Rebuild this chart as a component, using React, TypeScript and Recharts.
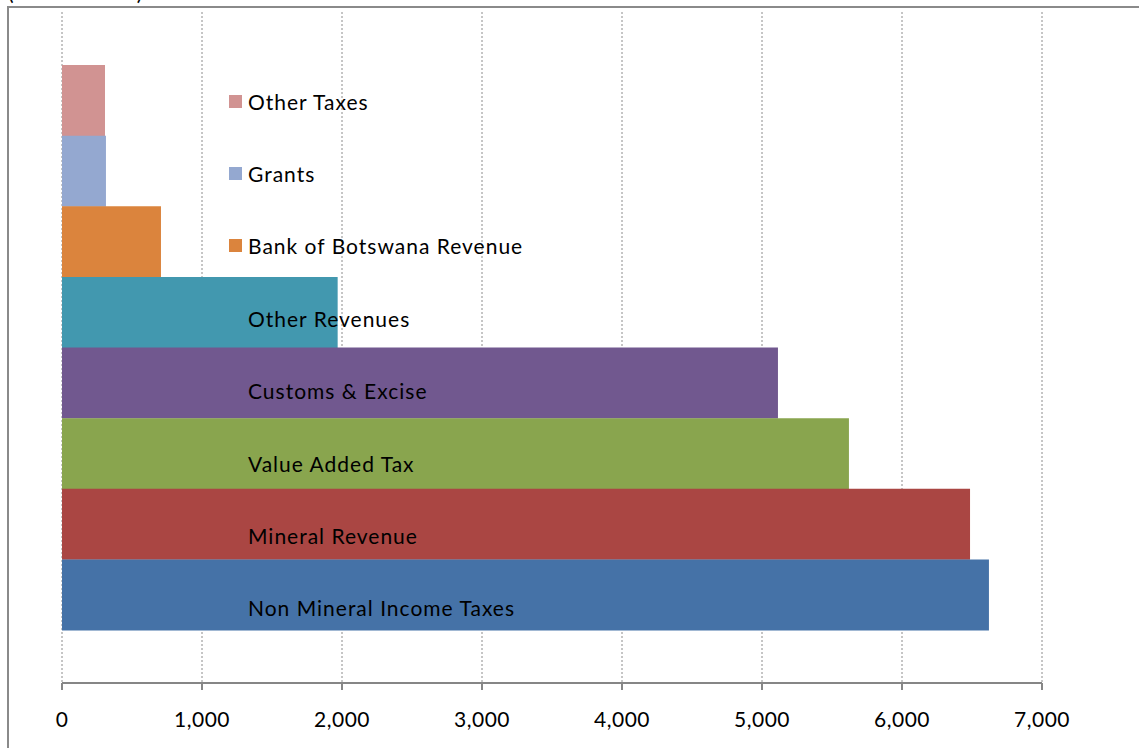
import React from 'react';
import { BarChart, Bar, XAxis, YAxis, CartesianGrid, Cell } from 'recharts';

// top to bottom as drawn
const categories = [
  'Other Taxes',
  'Grants',
  'Bank of Botswana Revenue',
  'Other Revenues',
  'Customs & Excise',
  'Value Added Tax',
  'Mineral Revenue',
  'Non Mineral Income Taxes',
];
const values = [307, 314, 707, 1969, 5114, 5621, 6486, 6621];
const colors = ['#D19392', '#94A8D0', '#DB843D', '#4298AF', '#71588F', '#89A54E', '#AA4643', '#4572A7'];
const xTicks = [0, 1000, 2000, 3000, 4000, 5000, 6000, 7000];

const data = categories.map((name, i) => ({ name, value: values[i] }));

const FONT = 'Lato, "Open Sans", sans-serif';

// legend sits over the plot, like the Excel original
const LegendBox = () => (
  <div
    style={{
      position: 'absolute',
      left: 229,
      top: 65,
      fontFamily: FONT,
      fontSize: 21,
      letterSpacing: 1,
      color: '#000',
    }}
  >
    {categories.map((name, i) => (
      <div
        key={name}
        style={{ height: 72.4, display: 'flex', alignItems: 'center', whiteSpace: 'nowrap' }}
      >
        <span
          style={{
            display: 'inline-block',
            width: 13,
            height: 13,
            background: colors[i],
            marginRight: 6,
          }}
        />
        <span>{name}</span>
      </div>
    ))}
  </div>
);

const App: React.FC = () => {
  return (
    <div
      style={{
        position: 'absolute',
        left: 0,
        top: 0,
        width: 1139,
        height: 748,
        overflow: 'hidden',
        background: '#fff',
      }}
    >
      <div
        style={{
          position: 'absolute',
          left: 7,
          top: 6,
          width: 1300,
          height: 900,
          border: '2px solid #8a8a8a',
        }}
      />
      <div
        style={{
          position: 'absolute',
          left: 8,
          top: -19,
          fontFamily: FONT,
          fontSize: 21,
          lineHeight: '21px',
          letterSpacing: 1.2,
          whiteSpace: 'nowrap',
        }}
      >
        (Pula Million)
      </div>
      <div style={{ position: 'absolute', left: 0, top: 0 }}>
        <BarChart
          width={1139}
          height={748}
          data={data}
          layout="vertical"
          margin={{ top: 12, right: 97, left: 62, bottom: 0 }}
          barCategoryGap={0}
        >
          <CartesianGrid horizontal={false} stroke="#8c8c8c" strokeDasharray="2 2" />
          <XAxis
            type="number"
            domain={[0, 7000]}
            ticks={xTicks}
            interval={0}
            height={65}
            tickSize={7}
            tickMargin={22}
            axisLine={{ stroke: '#868686', strokeWidth: 2 }}
            tickLine={{ stroke: '#868686', strokeWidth: 2 }}
            tick={{ fill: '#000', fontSize: 21, fontFamily: FONT, letterSpacing: 0.5 }}
            tickFormatter={(v: number) => v.toLocaleString('en-US')}
          />
          <YAxis
            type="category"
            dataKey="name"
            hide
            width={0}
            padding={{ top: 53, bottom: 53 }}
          />
          <Bar dataKey="value" isAnimationActive={false}>
            {data.map((d, i) => (
              <Cell key={d.name} fill={colors[i]} />
            ))}
          </Bar>
        </BarChart>
      </div>
      <LegendBox />
    </div>
  );
};

export default App;
